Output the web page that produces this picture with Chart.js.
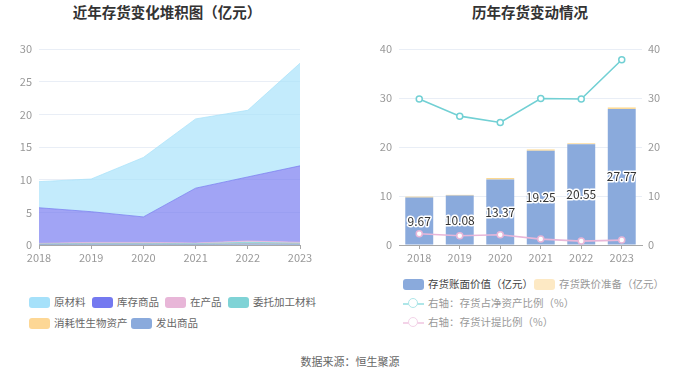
<!DOCTYPE html>
<html><head><meta charset="utf-8">
<script src="https://cdn.jsdelivr.net/npm/chart.js@4/dist/chart.umd.min.js"></script>
<style>
html,body{margin:0;padding:0;background:#fff;}
body{width:700px;height:378px;position:relative;overflow:hidden;font-family:"Noto Sans CJK SC","Noto Sans",sans-serif;}
.title{position:absolute;top:2px;font-size:14.5px;font-weight:bold;color:#333;white-space:nowrap;transform:translateX(-50%);line-height:20px;}
#c1{position:absolute;left:0;top:0;}
#c2{position:absolute;left:350px;top:0;}
.lg{position:absolute;font-size:10.5px;color:#666;white-space:nowrap;line-height:12px;}
.sw{position:absolute;width:21px;height:11px;border-radius:3px;}
#foot{position:absolute;left:350px;top:353px;transform:translateX(-50%);font-size:11px;color:#666;white-space:nowrap;}
</style></head><body>
<div class="title" style="left:167px">近年存货变化堆积图（亿元）</div>
<div class="title" style="left:530px">历年存货变动情况</div>
<canvas id="c1" width="330" height="270" style="width:330px;height:270px"></canvas>
<canvas id="c2" width="350" height="270" style="width:350px;height:270px"></canvas>
<div id="legends"></div>
<div id="foot">数据来源：恒生聚源</div>
<script>
// ---- data ----
const years = ['2018','2019','2020','2021','2022','2023'];
// left stacked area (亿元)
const rawMaterial   = [4.0, 5.0, 9.1, 10.6, 10.2, 15.7];   // 原材料
const finishedGoods = [5.45, 4.7, 3.9, 8.4, 9.8, 11.7];    // 库存商品
const wip           = [0.1, 0.15, 0.15, 0.1, 0.2, 0.15];   // 在产品
const consigned     = [0.05, 0.1, 0.1, 0.1, 0.2, 0.1];     // 委托加工材料
const bioAssets     = [0, 0, 0, 0, 0.02, 0.02];            // 消耗性生物资产
const goodsShipped  = [0.1, 0.15, 0.15, 0.1, 0.2, 0.15];   // 发出商品
// right chart
const bookValue   = [9.67, 10.08, 13.37, 19.25, 20.55, 27.77]; // 存货账面价值（亿元）
const impairment  = [0.2, 0.15, 0.3, 0.25, 0.2, 0.3];          // 存货跌价准备（亿元）
const invToNetAssets = [29.8, 26.3, 25.0, 29.9, 29.8, 37.8];   // 存货占净资产比例（%）
const provisionRatio = [2.3, 1.9, 2.1, 1.2, 0.8, 1.0];         // 存货计提比例（%）
const leftTicks = [0,5,10,15,20,25,30];
const rightTicks = [0,10,20,30,40];

const FONT = '"Noto Sans CJK SC","Noto Sans",sans-serif';
const TICK = '#999';
const GRID = '#e9eef6';
const AXIS = '#a8a8a8';

function rgba(hex,a){const n=parseInt(hex.slice(1),16);return `rgba(${n>>16},${(n>>8)&255},${n&255},${a})`;}

// left chart series (legend order)
const leftSeries = [
  {name:'原材料', data:rawMaterial, color:'#a6e1fa'},
  {name:'库存商品', data:finishedGoods, color:'#7479f0'},
  {name:'在产品', data:wip, color:'#e8b6d8'},
  {name:'委托加工材料', data:consigned, color:'#7fd3d6'},
  {name:'消耗性生物资产', data:bioAssets, color:'#fdd795'},
  {name:'发出商品', data:goodsShipped, color:'#8aaadc'}
];
// stacking bottom-up
const stackOrder = ['发出商品','消耗性生物资产','委托加工材料','在产品','库存商品','原材料'];
const leftDatasets = stackOrder.map((nm,i)=>{
  const s = leftSeries.find(x=>x.name===nm);
  return {label:s.name,data:s.data,borderColor:rgba(s.color,0.7),backgroundColor:rgba(s.color,0.68),
    borderWidth:1,pointRadius:0,fill:i===0?'origin':'-1',tension:0};
});

const yFit = w => (scale)=>{scale.width=w;};

new Chart(document.getElementById('c1'),{
  type:'line',
  data:{labels:years,datasets:leftDatasets},
  options:{
    responsive:false,animation:false,
    layout:{padding:{top:49,right:30,left:0,bottom:0}},
    plugins:{legend:{display:false},tooltip:{enabled:false}},
    scales:{
      x:{offset:false,afterFit:(s)=>{s.height=25;},
        grid:{drawOnChartArea:false,drawTicks:true,tickLength:4,color:AXIS},
        border:{color:AXIS},
        ticks:{color:TICK,font:{family:FONT,size:11},padding:2,maxRotation:0,autoSkip:false}},
      y:{stacked:true,min:0,max:30,afterFit:yFit(39),
        afterBuildTicks:(s)=>{s.ticks=leftTicks.map(v=>({value:v}));},
        grid:{color:GRID,drawTicks:false},border:{display:false},
        ticks:{color:TICK,font:{family:FONT,size:11},padding:7}}
    }
  }
});

const labelPlugin = {
  id:'barLabels',
  afterDatasetsDraw(chart){
    const ctx = chart.ctx;
    const meta = chart.getDatasetMeta(2);
    ctx.save();
    ctx.font = '12px '+FONT;
    ctx.textAlign='center';ctx.textBaseline='middle';
    ctx.lineJoin='round';
    meta.data.forEach((bar,i)=>{
      const y=(bar.y+bar.base)/2;
      const t=bookValue[i].toFixed(2);
      ctx.lineWidth=3;ctx.strokeStyle='#fff';ctx.strokeText(t,bar.x,y);
      ctx.fillStyle='#333';ctx.fillText(t,bar.x,y);
    });
    ctx.restore();
  }
};

new Chart(document.getElementById('c2'),{
  type:'bar',
  data:{labels:years,datasets:[
    {type:'line',label:'右轴：存货占净资产比例（%）',data:invToNetAssets,yAxisID:'y1',borderColor:'#72d0d4',
      backgroundColor:'#fff',pointBackgroundColor:'#fff',pointBorderColor:'#72d0d4',pointRadius:3,pointBorderWidth:1.5,borderWidth:1.6,tension:0,order:0},
    {type:'line',label:'右轴：存货计提比例（%）',data:provisionRatio,yAxisID:'y1',borderColor:'#e8b6d8',
      backgroundColor:'#fff',pointBackgroundColor:'#fff',pointBorderColor:'#e8b6d8',pointRadius:3,pointBorderWidth:1.5,borderWidth:1.6,tension:0,order:0},
    {label:'存货账面价值（亿元）',data:bookValue,yAxisID:'y',stack:'s',backgroundColor:'#8aaadc',
      categoryPercentage:1,barPercentage:0.69,order:1},
    {label:'存货跌价准备（亿元）',data:impairment,yAxisID:'y',stack:'s',backgroundColor:'#fcd890',
      categoryPercentage:1,barPercentage:0.69,order:1}
  ]},
  options:{
    responsive:false,animation:false,
    layout:{padding:{top:49,right:0,left:0,bottom:0}},
    plugins:{legend:{display:false},tooltip:{enabled:false}},
    scales:{
      x:{stacked:true,afterFit:(s)=>{s.height=25;},
        grid:{offset:false,drawOnChartArea:false,drawTicks:true,tickLength:4,color:AXIS},
        border:{color:AXIS},
        ticks:{color:TICK,font:{family:FONT,size:11},padding:2,maxRotation:0,autoSkip:false}},
      y:{stacked:true,min:0,max:40,position:'left',afterFit:yFit(49),
        afterBuildTicks:(s)=>{s.ticks=rightTicks.map(v=>({value:v}));},
        grid:{color:GRID,drawTicks:false},border:{display:false},
        ticks:{color:TICK,font:{family:FONT,size:11},padding:7}},
      y1:{min:0,max:40,position:'right',afterFit:yFit(58),
        afterBuildTicks:(s)=>{s.ticks=rightTicks.map(v=>({value:v}));},
        grid:{drawOnChartArea:false,drawTicks:false},border:{display:false},
        ticks:{color:TICK,font:{family:FONT,size:11},padding:6}}
    }
  },
  plugins:[labelPlugin]
});

// ---- HTML legends ----
const L = document.getElementById('legends');
function sw(x,y,color){const d=document.createElement('div');d.className='sw';d.style.left=x+'px';d.style.top=y+'px';d.style.background=color;L.appendChild(d);}
function tx(x,y,t,c){const d=document.createElement('div');d.className='lg';d.style.left=x+'px';d.style.top=y+'px';d.textContent=t;if(c)d.style.color=c;L.appendChild(d);}
function lineIcon(x,y,color){
  const d=document.createElement('div');d.style.cssText=`position:absolute;left:${x}px;top:${y}px;width:21px;height:2px;background:${color}`;L.appendChild(d);
  const c=document.createElement('div');c.style.cssText=`position:absolute;left:${x+5}px;top:${y-5}px;width:8px;height:8px;border-radius:50%;border:1.5px solid ${color};background:#fff`;L.appendChild(c);
}
const leftLegendPos = [[29,297],[92,297],[165,297],[228,297],[29,318],[131,318]];
leftSeries.forEach((s,i)=>{const [x,y]=leftLegendPos[i];sw(x,y,s.color);tx(x+25,y-1,s.name);});
sw(403,279,'#8aaadc');tx(428,278,'存货账面价值（亿元）','#444');
sw(534,279,'#fde9c4');tx(559,278,'存货跌价准备（亿元）','#999');
lineIcon(403,303,'#aee6e8');tx(428,297,'右轴：存货占净资产比例（%）','#999');
lineIcon(403,322,'#f3d3e8');tx(428,316,'右轴：存货计提比例（%）','#999');
</script>
</body></html>
